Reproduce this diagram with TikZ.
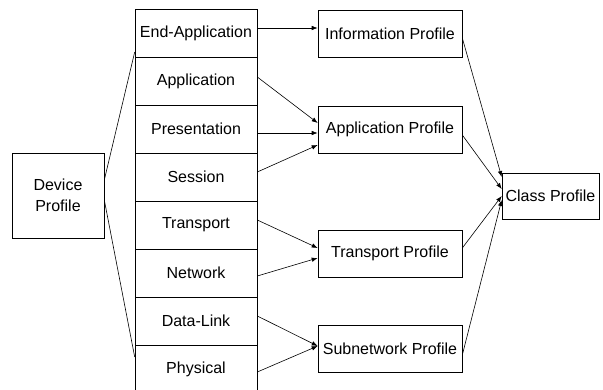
\documentclass[tikz,border=0pt]{standalone}
\usepackage{fontspec}
\setmainfont{Liberation Sans}
\usetikzlibrary{arrows.meta}

\begin{document}
\begin{tikzpicture}[
				x=1pt, y=-1pt,
				box/.style = {draw, line width=0.6pt, inner sep=0pt, align=center,
						font=\fontsize{16}{20.5}\selectfont},
				layer/.style = {box, minimum width=122pt, minimum height=48pt},
				profile/.style = {box, minimum width=144pt, minimum height=47pt},
				link/.style = {-{Latex[length=6pt, width=4.5pt]}, line width=0.6pt},
			]
			\path[use as bounding box] (0,0) rectangle (603,389);
			% device and layer stack
			\node[box, minimum width=92pt, minimum height=85pt] (dev) at (58,195.5) {Device\\Profile};
			\foreach \name/\label [count=\i from 0] in {endapp/End-Application, app/Application, pres/Presentation, sess/Session, trans/Transport, net/Network, dlink/Data-Link, phys/Physical}
			\node[layer] (\name) at (196,{33+48*\i}) {\label};
			\draw[line width=0.6pt] ([yshift=15.5pt]dev.east) -- ([yshift=-19pt]endapp.west);
			\draw[line width=0.6pt] ([yshift=-4.5pt]dev.east) -- ([yshift=12pt]phys.west);
			% profiles
			\node[profile] (info) at (390,33.5) {Information Profile};
			\node[profile] (appp) at (390,129.5) {Application Profile};
			\node[profile] (transp) at (390,253.5) {Transport Profile};
			\node[profile] (subp) at (390,348.5) {Subnetwork Profile};
			\node[box, minimum width=97pt, minimum height=46pt] (cls) at (550.5,196) {Class Profile};
			% layers to profiles
			\draw[link] ([yshift=5pt]endapp.east) -- ([yshift=5.5pt]info.west);
			\draw[link] ([yshift=4pt]app.east) -- ([yshift=6.5pt]appp.west);
			\draw[link] ([yshift=-4pt]pres.east) -- ([yshift=-3.5pt]appp.west);
			\draw[link] ([yshift=5pt]sess.east) -- ([yshift=-15.5pt]appp.west);
			\draw[link] ([yshift=5pt]trans.east) -- ([yshift=5.5pt]transp.west);
			\draw[link] ([yshift=-3pt]net.east) -- ([yshift=-4.5pt]transp.west);
			\draw[link] ([yshift=5pt]dlink.east) -- ([yshift=2.5pt]subp.west);
			\draw[link] ([yshift=-3pt]phys.east) -- ([yshift=2.5pt]subp.west);
			% profiles to class
			\draw[link] ([yshift=-4.5pt]info.east) -- ([yshift=19pt]cls.west);
			\draw[link] ([yshift=-5.5pt]appp.east) -- ([yshift=7pt]cls.west);
			\draw[link] ([yshift=5.5pt]transp.east) -- ([yshift=0pt]cls.west);
			\draw[link] ([yshift=-6.5pt]subp.east) -- ([yshift=-4pt]cls.west);
		\end{tikzpicture}
\end{document}
